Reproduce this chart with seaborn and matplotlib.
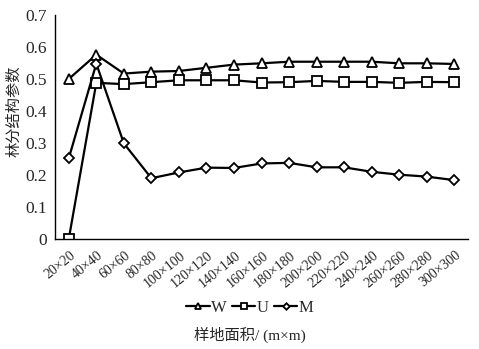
import matplotlib
matplotlib.use("Agg")
import matplotlib.pyplot as plt
import matplotlib.transforms as mtransforms
import seaborn as sns
import pandas as pd
from matplotlib.ticker import FixedLocator, FuncFormatter

# Plot sizes (m x m)
areas = ["20×20", "40×40", "60×60", "80×80", "100×100", "120×120", "140×140",
         "160×160", "180×180", "200×200", "220×220", "240×240", "260×260",
         "280×280", "300×300"]

# Stand structure parameters
w_vals = [0.500, 0.576, 0.517, 0.523, 0.525, 0.535, 0.545, 0.549, 0.554,
          0.554, 0.554, 0.554, 0.549, 0.549, 0.547]
u_vals = [0.000, 0.488, 0.484, 0.490, 0.496, 0.496, 0.496, 0.489, 0.490,
          0.494, 0.491, 0.491, 0.488, 0.491, 0.490]
m_vals = [0.252, 0.548, 0.299, 0.190, 0.208, 0.223, 0.222, 0.236, 0.238,
          0.224, 0.224, 0.210, 0.201, 0.195, 0.184]

series = [("W", w_vals, "^", 7.5), ("U", u_vals, "s", 6.5), ("M", m_vals, "D", 5.5)]

sns.set_style("white")
serif = ["Liberation Serif", "Noto Sans CJK SC"]
plt.rcParams["font.family"] = serif

fig = plt.figure(figsize=(4.79, 3.49), dpi=100)
ax = fig.add_axes([55 / 479, 1 - 239 / 349, 413 / 479, 224 / 349])

for name, vals, mk, ms in series:
    df = pd.DataFrame({"area": areas, "value": vals})
    sns.lineplot(data=df, x="area", y="value", ax=ax, sort=False,
                 color="black", linewidth=1.6, marker=mk, markersize=ms,
                 markerfacecolor="white", markeredgecolor="black",
                 markeredgewidth=1.3, label=name)

ax.set_xlim(-0.5, len(areas) - 0.5)
ax.set_ylim(0, 0.7)
ax.set_yticks([i / 10 for i in range(8)])
ax.yaxis.set_major_formatter(FuncFormatter(lambda v, p: "0" if v == 0 else f"{v:.1f}"))

ax.set_xticks(range(len(areas)))
ax.xaxis.set_minor_locator(FixedLocator([i - 0.5 for i in range(len(areas) + 1)]))
ax.tick_params(axis="x", which="major", length=0, pad=7)
ax.tick_params(axis="x", which="minor", length=4, width=1, direction="out",
               color="black")
ax.tick_params(axis="y", length=4, width=1, direction="out", color="black",
               labelsize=12.5, pad=2)
ax.set_xticklabels(areas, rotation=39, ha="right", va="top", fontsize=10)

for side in ("top", "right"):
    ax.spines[side].set_visible(False)
for side in ("left", "bottom"):
    ax.spines[side].set_color("black")
    ax.spines[side].set_linewidth(1.0)

ax.set_xlabel("")
ax.set_ylabel("林分结构参数", family=["Noto Sans CJK SC"], fontsize=11)
ax.yaxis.set_label_coords(-0.078, 0.571)

handles, labels = ax.get_legend_handles_labels()
ax.get_legend().remove()
fig.legend(handles, labels, loc="center", bbox_to_anchor=(250 / 479, 1 - 308 / 349),
           ncol=3, frameon=False, fontsize=12, handlelength=1.4,
           handletextpad=0.1, columnspacing=0.3, markerscale=0.6)

fig.text(250 / 479, 1 - 335 / 349, "样地面积/ (m×m)", ha="center", va="center",
         fontsize=11, family=serif)

# nudge the slanted category labels to the right of their slots
shift = mtransforms.ScaledTranslation(9 / 100, 0, fig.dpi_scale_trans)
for tick in ax.xaxis.get_major_ticks():
    tick.label1.set_transform(tick.label1.get_transform() + shift)

fig.savefig("out.png", dpi=100)
